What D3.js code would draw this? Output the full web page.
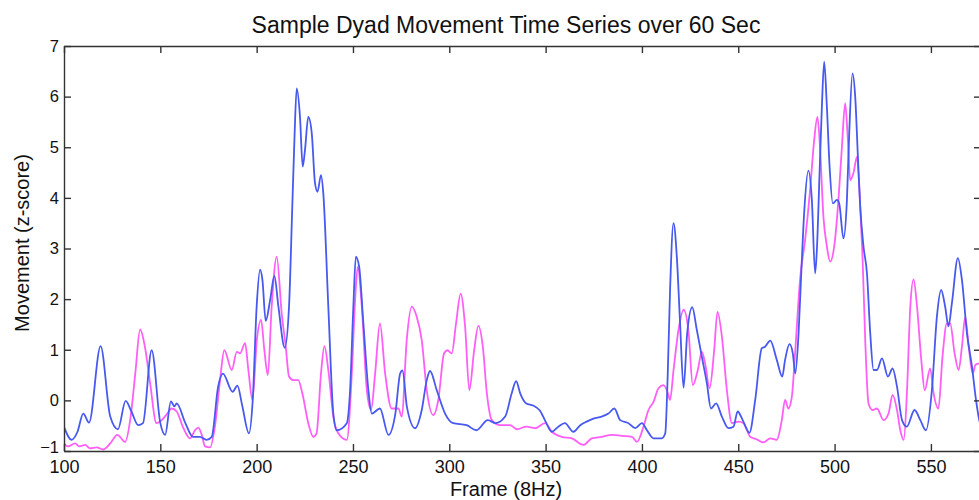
<!DOCTYPE html>
<html>
<head>
<meta charset="utf-8">
<script src="https://cdn.jsdelivr.net/npm/d3@7"></script>
<style>
  body { margin: 0; background: #fff; }
  svg { display: block; font-family: "Liberation Sans", Arial, sans-serif; }
  .axis path, .axis line { stroke: #333; stroke-width: 1.4; }
  .axis text { fill: #111; }
  .xAxis text { font-size: 18px; }
  .yAxis text { font-size: 16.5px; }
</style>
</head>
<body>
<div id="chartDiv"></div>
<script>
// frames / values (points where the traces turn)
var blueFrames = [100,104,107,110,113,119,124,128,132,135,138.5,141,145.5,150,152.5,155.5,157.3,158.5,163,167,170.5,174,176.7,180,182.5,187.5,190,192.5,196,198,200,201.8,203,204.7,207,209.2,211.3,214.6,216.8,218.5,219.6,220.8,222.5,223.9,225.1,226.8,228.6,230.3,231.6,233.4,234.6,237.2,239.8,241.6,246.8,248.5,250.2,251.5,253.2,255.4,258,259.8,264,268.4,272,274.5,275.7,278,282.2,285.7,288.3,290,293.5,297.8,302,309,314,320,324,329,332.4,334.7,336.8,340,343.5,347,350,353.2,356.6,360,364.4,368,371.3,374.8,379,382.6,385.7,388.7,393,396.5,400,402.6,406,410.3,412.1,413.4,414.6,416.4,418.1,419.8,421.6,423.5,426.1,428.5,431.1,433.7,435.8,438.5,441.5,444.9,447.5,449.7,452.3,455.8,458.8,462.2,463.9,466.6,470,472.8,474.3,476.6,478.3,479.6,481.3,482.8,484.2,486.4,488.2,489.9,490.8,492.2,493.4,494.6,496,497.4,499.1,501.2,502.4,504.6,506.4,507.6,509.3,510.7,512.1,513.3,515,516.8,518.5,520.2,522,524.6,527.7,530.1,532.4,535,537.5,541.5,544.5,547.4,550.5,553.1,555.3,557.4,559.1,560.9,564,566.1,568.7,571.3,573.4,575.1,577];
var blueValues = [-0.52,-0.78,-0.62,-0.26,-0.44,1.07,-0.32,-0.57,-0.01,-0.22,-0.49,-0.45,0.99,-0.45,-0.68,-0.02,-0.12,-0.06,-0.45,-0.72,-0.72,-0.78,-0.72,0.27,0.53,0.17,0.29,-0.1,-0.65,0.03,1.85,2.58,2.38,1.57,1.98,2.46,1.85,1.04,1.85,3.83,5.14,6.16,5.6,4.62,4.95,5.6,5.28,4.29,4.12,4.45,4.09,1.85,-0.26,-0.59,-0.45,0.2,1.85,2.84,2.64,1.52,0.2,-0.26,-0.16,-0.68,-0.26,0.53,0.59,-0.13,-0.55,-0.19,0.4,0.58,0.2,-0.26,-0.45,-0.49,-0.59,-0.39,-0.45,-0.32,0.14,0.38,0.14,-0.06,-0.1,-0.2,-0.42,-0.62,-0.52,-0.45,-0.62,-0.49,-0.42,-0.36,-0.32,-0.26,-0.16,-0.39,-0.45,-0.55,-0.45,-0.59,-0.75,-0.75,-0.65,0.53,2.18,3.5,2.84,1.52,0.25,1.33,1.84,1.39,0.86,0.34,-0.16,-0.06,-0.32,-0.55,-0.52,-0.22,-0.39,-0.64,0.01,1.03,1.06,1.18,0.8,0.47,0.8,1.11,0.93,0.53,1.33,2.6,3.7,4.54,3.96,2.51,2.97,4.49,5.8,6.69,5.8,4.62,3.89,3.96,3.89,3.2,3.96,5.28,6.46,6.0,4.81,3.83,3.04,2.51,1.33,0.6,0.6,0.83,0.47,0.63,0.27,-0.39,-0.52,-0.19,-0.39,-0.59,0.2,1.65,2.18,1.85,1.46,1.92,2.81,2.38,1.33,0.67,0.01,-0.39,-0.6];

var pinkFrames = [100,102,105.7,108,111,113.5,117,120.4,124,127.7,131.7,134.6,137,139.5,142,144.7,148,150.7,153,156,158.5,162,165.4,168,169.7,171.5,173.2,175.8,178.4,181,183.2,187.1,189.7,191.4,194,195.7,197.8,200.1,202.3,204,205.8,207.8,210.4,213,215.1,216.8,219,221.6,223.7,226.8,229.4,231.1,233.4,235.2,237.2,239.8,242.4,246.8,249.4,251.1,252.5,254.6,257.2,259.4,261.5,264,266.7,270.1,273.6,275.3,277.9,280.5,283.1,285.7,288.3,291.7,294.3,297.3,299,301.3,303.5,305.9,308.2,310.4,312.9,315.1,317.4,319.5,322.1,326.4,331.6,335,340,344.5,349.7,353.2,358.4,363.6,369.6,374,379.2,384.4,389.6,394.8,397.4,400.8,403.4,406,408.6,411.2,413.4,414.6,416.4,419,421.6,424.1,426.4,429,431.1,432.8,435.1,437.5,439.2,441.5,444.1,446.7,450.1,452.7,456.2,459.6,463.1,466.6,470,472.6,474.3,476,477.8,479.6,482.1,484.7,487.3,489.4,491.1,492.5,494.2,496,497.7,499.8,502,503.8,505.5,506.9,508.1,509.8,511.6,513.3,514.5,515.9,517.6,519.7,522,525.4,528,530.1,532.4,534.1,535.9,537.6,539.3,541,542.8,545,546.8,549.6,551.4,553.9,556,558.3,560,562.3,564.4,566.1,567.8,569.6,571.7,573.1,575.1,577];
var pinkValues = [-0.85,-0.91,-0.85,-0.91,-0.88,-0.95,-0.93,-0.97,-0.85,-0.68,-0.82,-0.32,0.53,1.4,1.06,0.34,-0.45,-0.39,-0.29,-0.16,-0.22,-0.55,-0.75,-0.59,-0.54,-0.68,-0.91,-0.93,-0.5,0.4,0.99,0.6,0.96,0.93,1.13,0.6,0.01,1.19,1.59,0.99,0.5,1.85,2.84,1.72,1.06,0.47,0.4,0.4,0.14,-0.45,-0.72,-0.65,0.53,1.07,0.6,-0.32,-0.65,-0.78,0.53,1.98,2.64,1.85,0.2,-0.19,0.53,1.52,0.53,-0.16,-0.16,-0.32,1.19,1.85,1.65,1.19,0.2,-0.29,0.01,0.93,0.99,0.93,1.52,2.11,1.46,0.2,0.99,1.47,1.06,0.14,-0.39,-0.49,-0.49,-0.57,-0.52,-0.55,-0.45,-0.62,-0.72,-0.75,-0.88,-0.75,-0.72,-0.68,-0.7,-0.72,-0.82,-0.52,-0.19,-0.03,0.24,0.3,0.15,0.01,0.6,1.4,1.79,1.39,0.3,0.6,0.96,0.73,0.24,0.99,1.75,1.26,0.2,-0.45,-0.42,-0.45,-0.72,-0.77,-0.83,-0.75,-0.78,-0.39,0.01,-0.16,0.07,0.99,2.4,3.17,4.16,5.14,5.6,4.95,3.63,3.04,2.74,3.04,3.96,5.01,5.87,5.14,4.35,4.49,4.81,3.83,2.84,1.19,-0.06,-0.19,-0.16,-0.39,-0.26,0.11,-0.19,-0.59,-0.78,0.2,1.85,2.39,1.85,0.8,0.2,0.63,0.14,-0.16,0.86,1.52,1.52,0.93,0.6,1.06,1.65,1.06,0.53,0.7,0.73,0.75];

var xTicks = [100,150,200,250,300,350,400,450,500,550];
var yTicks = [-1,0,1,2,3,4,5,6,7];

var titleText = "Sample Dyad Movement Time Series over 60 Sec";
var xLabel = "Frame (8Hz)";
var yLabel = "Movement (z-score)";

// settings
var s = {
  w: 979, h: 500,
  m: { t: 46, r: -2, b: 49, l: 64 },
  xDomain: [100, 576],
  yDomain: [-1, 7]
};

const svgObj = d3.select("#chartDiv").append("svg")
  .attr("width", s.w)
  .attr("height", s.h);

const innerW = s.w - s.m.l - s.m.r;
const innerH = s.h - s.m.t - s.m.b;

const xScale = d3.scaleLinear().domain(s.xDomain).range([0, innerW]);
const yScale = d3.scaleLinear().domain(s.yDomain).range([innerH, 0]);

const g = svgObj.append("g")
  .attr("transform", `translate(${s.m.l},${s.m.t})`);

g.append("defs").append("clipPath").attr("id", "plotClip")
  .append("rect").attr("width", innerW).attr("height", innerH);

// series
function makeSeries(frames, vals){
  return frames.map((f, i) => ({ f: f, v: vals[i] }));
}
const lineFn = d3.line()
  .curve(d3.curveMonotoneX)
  .x(d => xScale(d.f))
  .y(d => yScale(d.v));

const plotG = g.append("g").attr("clip-path", "url(#plotClip)");

plotG.append("path")
  .datum(makeSeries(pinkFrames, pinkValues))
  .attr("fill", "none")
  .attr("stroke", "#ff5ef7")
  .attr("stroke-width", 1.8)
  .attr("stroke-linejoin", "round")
  .attr("d", lineFn);

plotG.append("path")
  .datum(makeSeries(blueFrames, blueValues))
  .attr("fill", "none")
  .attr("stroke", "#4759ef")
  .attr("stroke-width", 1.8)
  .attr("stroke-linejoin", "round")
  .attr("d", lineFn);

// axes, MATLAB style: ticks point inward on all four sides
const tickLen = 7;

g.append("g").attr("class", "axis xAxis")
  .attr("transform", `translate(0,${innerH})`)
  .call(d3.axisBottom(xScale).tickValues(xTicks).tickSizeInner(-tickLen).tickSizeOuter(0).tickPadding(9));

g.append("g").attr("class", "axis")
  .call(d3.axisTop(xScale).tickValues(xTicks).tickSizeInner(-tickLen).tickSizeOuter(0).tickFormat(""));

g.append("g").attr("class", "axis yAxis")
  .call(d3.axisLeft(yScale).tickValues(yTicks).tickSizeInner(-tickLen).tickSizeOuter(0).tickPadding(5));

g.append("g").attr("class", "axis")
  .attr("transform", `translate(${innerW},0)`)
  .call(d3.axisRight(yScale).tickValues(yTicks).tickSizeInner(-tickLen).tickSizeOuter(0).tickFormat(""));

// the -1 label sits a touch higher so it clears the 100 below it
g.selectAll(".yAxis .tick text").filter(d => d === -1).attr("dy", "0.1em");

// labels
svgObj.append("text")
  .attr("x", 506).attr("y", 33)
  .attr("text-anchor", "middle")
  .attr("font-size", "23px")
  .attr("fill", "#111")
  .text(titleText);

svgObj.append("text")
  .attr("x", 506).attr("y", 496)
  .attr("text-anchor", "middle")
  .attr("font-size", "20px")
  .attr("fill", "#111")
  .text(xLabel);

svgObj.append("text")
  .attr("transform", "translate(29,243) rotate(-90)")
  .attr("text-anchor", "middle")
  .attr("font-size", "20px")
  .attr("fill", "#111")
  .text(yLabel);
</script>
</body>
</html>
